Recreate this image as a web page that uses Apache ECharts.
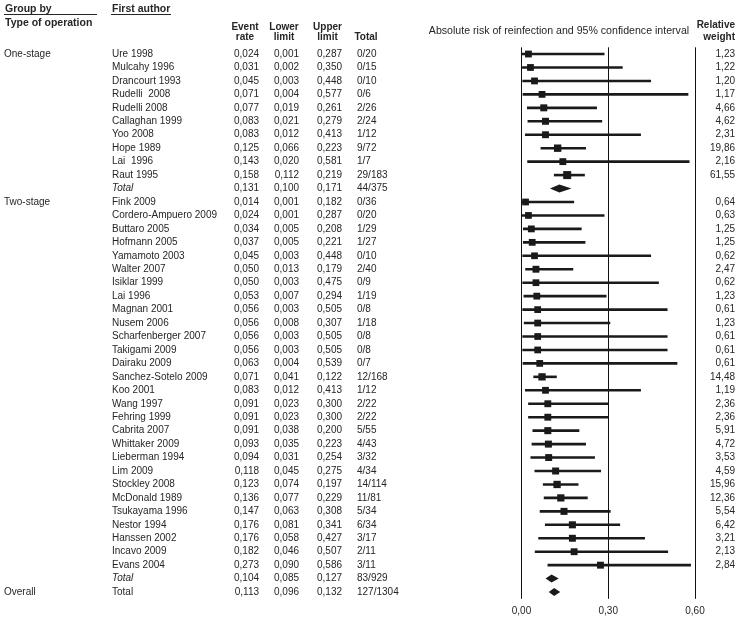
<!DOCTYPE html>
<html>
<head>
<meta charset="utf-8">
<script src="https://cdn.jsdelivr.net/npm/echarts@6/dist/echarts.min.js"></script>
<style>html,body{margin:0;padding:0;background:#fff}#c{width:743px;height:621px}</style>
</head>
<body>
<div id="c"></div>
<script>
// ---- data ----
const groupLabels = ['One-stage','','','','','','','','','','', 'Two-stage','','','','','','','','','','','','','','','','','','','','','','','','','','','','', 'Overall'];
const authors = ['Ure 1998','Mulcahy 1996','Drancourt 1993','Rudelli  2008','Rudelli 2008','Callaghan 1999','Yoo 2008','Hope 1989','Lai  1996','Raut 1995','Total',
  'Fink 2009','Cordero-Ampuero 2009','Buttaro 2005','Hofmann 2005','Yamamoto 2003','Walter 2007','Isiklar 1999','Lai 1996','Magnan 2001','Nusem 2006','Scharfenberger 2007','Takigami 2009','Dairaku 2009','Sanchez-Sotelo 2009','Koo 2001','Wang 1997','Fehring 1999','Cabrita 2007','Whittaker 2009','Lieberman 1994','Lim 2009','Stockley 2008','McDonald 1989','Tsukayama 1996','Nestor 1994','Hanssen 2002','Incavo 2009','Evans 2004','Total',
  'Total'];
const rowKinds = ['s','s','s','s','s','s','s','s','s','s','sub',
  's','s','s','s','s','s','s','s','s','s','s','s','s','s','s','s','s','s','s','s','s','s','s','s','s','s','s','s','sub',
  'overall'];
const eventRate = [0.024,0.031,0.045,0.071,0.077,0.083,0.083,0.125,0.143,0.158,0.131,
  0.014,0.024,0.034,0.037,0.045,0.050,0.050,0.053,0.056,0.056,0.056,0.056,0.063,0.071,0.083,0.091,0.091,0.091,0.093,0.094,0.118,0.123,0.136,0.147,0.176,0.176,0.182,0.273,0.104,
  0.113];
const lowerLimit = [0.001,0.002,0.003,0.004,0.019,0.021,0.012,0.066,0.020,0.112,0.100,
  0.001,0.001,0.005,0.005,0.003,0.013,0.003,0.007,0.003,0.008,0.003,0.003,0.004,0.041,0.012,0.023,0.023,0.038,0.035,0.031,0.045,0.074,0.077,0.063,0.081,0.058,0.046,0.090,0.085,
  0.096];
const upperLimit = [0.287,0.350,0.448,0.577,0.261,0.279,0.413,0.223,0.581,0.219,0.171,
  0.182,0.287,0.208,0.221,0.448,0.179,0.475,0.294,0.505,0.307,0.505,0.505,0.539,0.122,0.413,0.300,0.300,0.200,0.223,0.254,0.275,0.197,0.229,0.308,0.341,0.427,0.507,0.586,0.127,
  0.132];
const totals = ['0/20','0/15','0/10','0/6','2/26','2/24','1/12','9/72','1/7','29/183','44/375',
  '0/36','0/20','1/29','1/27','0/10','2/40','0/9','1/19','0/8','1/18','0/8','0/8','0/7','12/168','1/12','2/22','2/22','5/55','4/43','3/32','4/34','14/114','11/81','5/34','6/34','3/17','2/11','3/11','83/929',
  '127/1304'];
const relWeight = [1.23,1.22,1.20,1.17,4.66,4.62,2.31,19.86,2.16,61.55,null,
  0.64,0.63,1.25,1.25,0.62,2.47,0.62,1.23,0.61,1.23,0.61,0.61,0.61,14.48,1.19,2.36,2.36,5.91,4.72,3.53,4.59,15.96,12.36,5.54,6.42,3.21,2.13,2.84,null,
  null];
const xTicks = [0, 0.3, 0.6];

// ---- build ----
const FONT = '"Liberation Sans", Arial, sans-serif';
const TXT = '#262626';
const fmt3 = v => v.toFixed(3).replace('.', ',');
const fmt2 = v => v.toFixed(2).replace('.', ',');
const rowIdx = authors.map((_, i) => i);
const studyRows = rowIdx.filter(i => rowKinds[i] === 's');
const sumRows = rowIdx.filter(i => rowKinds[i] !== 's');

const chart = echarts.init(document.getElementById('c'), null, {renderer: 'canvas'});

function txt(x, y, text, opts) {
  return {type: 'text', style: Object.assign({x, y, text, fill: TXT, font: '10px ' + FONT, align: 'left', verticalAlign: 'middle'}, opts || {})};
}

const option = {
  animation: false,
  backgroundColor: '#fff',
  grid: {left: 521.5, width: 173.5, top: 47.3, height: 551.5, containLabel: false},
  xAxis: {
    type: 'value', min: xTicks[0], max: xTicks[xTicks.length - 1], interval: xTicks[1] - xTicks[0],
    axisLine: {show: false}, axisTick: {show: false},
    splitLine: {show: true, lineStyle: {color: '#111', width: 1}},
    axisLabel: {color: TXT, fontFamily: FONT, fontSize: 10, margin: 7,
      formatter: v => v.toFixed(2).replace('.', ',')}
  },
  yAxis: {type: 'value', min: -0.5, max: 40.5, inverse: true, show: false},
  graphic: [
    txt(5, 9.5, 'Group by', {font: 'bold 10.5px ' + FONT}),
    {type: 'line', shape: {x1: 4, y1: 14.5, x2: 97, y2: 14.5}, style: {stroke: TXT, lineWidth: 1}},
    txt(112, 9.5, 'First author', {font: 'bold 10.5px ' + FONT}),
    {type: 'line', shape: {x1: 111, y1: 14.5, x2: 171, y2: 14.5}, style: {stroke: TXT, lineWidth: 1}},
    txt(5, 23.5, 'Type of operation', {font: 'bold 10.5px ' + FONT}),
    txt(245, 27, 'Event', {font: 'bold 10px ' + FONT, align: 'center'}),
    txt(245, 37.5, 'rate', {font: 'bold 10px ' + FONT, align: 'center'}),
    txt(284, 27, 'Lower', {font: 'bold 10px ' + FONT, align: 'center'}),
    txt(284, 37.5, 'limit', {font: 'bold 10px ' + FONT, align: 'center'}),
    txt(327.5, 27, 'Upper', {font: 'bold 10px ' + FONT, align: 'center'}),
    txt(327.5, 37.5, 'limit', {font: 'bold 10px ' + FONT, align: 'center'}),
    txt(366, 37.5, 'Total', {font: 'bold 10px ' + FONT, align: 'center'}),
    txt(559, 31.5, 'Absolute risk of reinfection and 95% confidence interval', {font: '10.6px ' + FONT, align: 'center'}),
    txt(735, 25, 'Relative', {font: 'bold 10px ' + FONT, align: 'right'}),
    txt(735, 37, 'weight', {font: 'bold 10px ' + FONT, align: 'right'})
  ],
  series: [
    {
      type: 'custom', name: 'ci', clip: false,
      data: studyRows.map(i => [lowerLimit[i], upperLimit[i], i]),
      encode: {x: [0, 1], y: 2},
      renderItem: (params, api) => {
        const a = api.coord([api.value(0), api.value(2)]);
        const b = api.coord([api.value(1), api.value(2)]);
        return {type: 'line', shape: {x1: a[0], y1: a[1], x2: b[0], y2: b[1]},
          style: {stroke: '#1a1a1a', lineWidth: 2.6}};
      }
    },
    {
      type: 'scatter', name: 'rate', symbol: 'rect',
      data: studyRows.map(i => [eventRate[i], i, relWeight[i]]),
      symbolSize: d => 6.6 + Math.sqrt(d[2]) * 0.18,
      itemStyle: {color: '#1a1a1a', opacity: 1},
      z: 3
    },
    {
      type: 'custom', name: 'diamond', clip: false,
      data: sumRows.map(i => [lowerLimit[i], eventRate[i], upperLimit[i], i]),
      encode: {x: [0, 2], y: 3},
      renderItem: (params, api) => {
        const r = api.value(3);
        const l = api.coord([api.value(0), r]);
        const m = api.coord([api.value(1), r]);
        const u = api.coord([api.value(2), r]);
        const h = 4;
        return {type: 'polygon', shape: {points: [[l[0] - 0.5, l[1]], [m[0], m[1] - h], [u[0] + 0.5, u[1]], [m[0], m[1] + h]]},
          style: {fill: '#1a1a1a'}};
      }
    },
    {
      type: 'custom', name: 'table', clip: false, silent: true,
      data: rowIdx.map(i => [0, i]),
      encode: {x: 0, y: 1},
      renderItem: (params, api) => {
        const i = params.dataIndex;
        const y = api.coord([0, api.value(1)])[1];
        const italic = rowKinds[i] === 'sub' ? 'italic ' : '';
        const children = [];
        if (groupLabels[i]) children.push(txt(4, y, groupLabels[i]));
        children.push(txt(112, y, authors[i], {font: italic + '10px ' + FONT}));
        children.push(txt(259, y, fmt3(eventRate[i]), {align: 'right'}));
        children.push(txt(299, y, fmt3(lowerLimit[i]), {align: 'right'}));
        children.push(txt(342, y, fmt3(upperLimit[i]), {align: 'right'}));
        children.push(txt(357, y, totals[i]));
        if (relWeight[i] != null) children.push(txt(735, y, fmt2(relWeight[i]), {align: 'right'}));
        return {type: 'group', children};
      }
    }
  ]
};
chart.setOption(option);
</script>
</body>
</html>
